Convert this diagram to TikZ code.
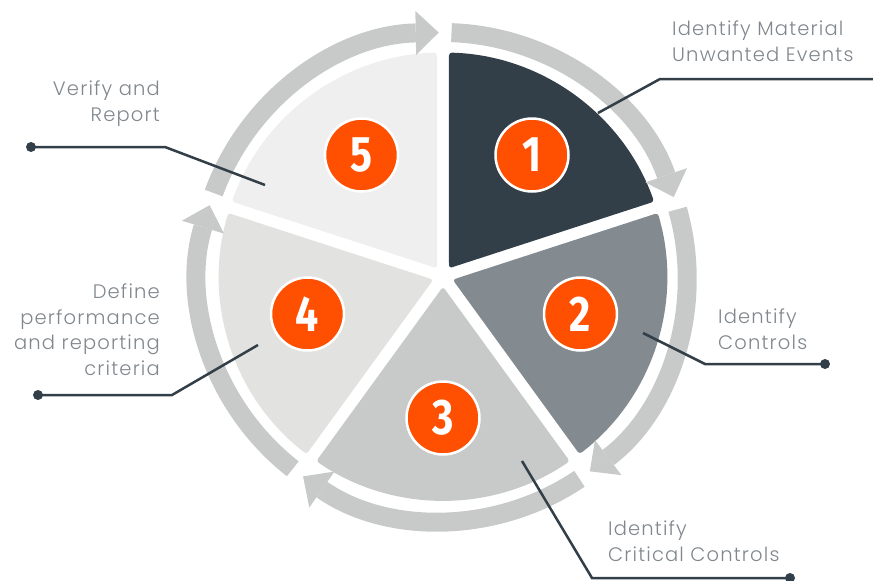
\documentclass[tikz,border=0pt]{standalone}
\usepackage{fontspec}
\setmainfont{Poppins}[UprightFont={* Light}, LetterSpace=6]
\newfontfamily\numfont{Fira Sans}[FakeStretch=0.82]
\usetikzlibrary{arrows.meta}
\definecolor{slate}{HTML}{323F48}
\definecolor{segB}{HTML}{838A90}
\definecolor{segC}{HTML}{C8CAC9}
\definecolor{segD}{HTML}{E2E3E1}
\definecolor{segE}{HTML}{EEEFEE}
\definecolor{ringgray}{HTML}{C8CAC9}
\definecolor{accent}{HTML}{FF4F00}
\definecolor{txtgray}{HTML}{80878D}
\tikzset{
    ring/.style = {draw=ringgray, line width=19pt,
                   -{Triangle[length=23pt,width=44pt,line width=0pt]}},
    num/.style = {circle, fill=accent, draw=white, line width=2.5pt,
                  minimum size=73pt, inner sep=0pt, text=white,
                  font=\numfont\bfseries\fontsize{50}{50}\selectfont},
    lbl/.style = {inner sep=0pt, text=txtgray,
                  font=\fontsize{19.5}{25.5}\selectfont},
    leader/.style = {draw=slate, line width=2.5pt},
    dot/.style = {circle, fill=slate, inner sep=0pt, minimum size=10pt}
}

\begin{document}
\begin{tikzpicture}[x=1pt, y=1pt]
  \useasboundingbox (0,0) rectangle (873,-581);

  \begin{scope}[shift={(443,-276.5)}]
    % wedges, pulled in from the boundary rays to leave white gaps
    \foreach \a/\col in {90/slate, 18/segB, -54/segC, -126/segD, -198/segE}
      \fill[\col, rounded corners=3pt] ({\a-36}:10.2) -- ({\a-1.53}:224)
        arc[start angle=\a-1.53, end angle=\a-70.47, radius=224] -- cycle;
    % arrows running round the wheel
    \foreach \a in {90, 18, -54, -126, -198}
      \draw[ring] ({\a-2}:244) arc[start angle=\a-2, end angle=\a-71, radius=244];
  \end{scope}

  % step numbers
  \node[num] (n1) at (532,-155)   {1};
  \node[num] (n2) at (580.5,-314) {2};
  \node[num] (n3) at (443,-418)   {3};
  \node[num] (n4) at (307.5,-314) {4};
  \node[num] (n5) at (361.5,-155) {5};

  % labels
  \node[lbl, anchor=north west, align=left]  (t1) at (672,-21)  {Identify Material\\Unwanted Events};
  \node[lbl, anchor=north west, align=left]  (t2) at (718,-309) {Identify\\Controls};
  \node[lbl, anchor=north west, align=left]  (t3) at (608,-521) {Identify\\Critical Controls};
  \node[lbl, anchor=north east, align=right] (t4) at (160,-284) {Define\\performance\\and reporting\\criteria};
  \node[lbl, anchor=north east, align=right] (t5) at (160,-81)  {Verify and\\Report};

  % leader lines
  \coordinate (s1) at (598,-113);
  \coordinate (k1) at (660,-79);
  \coordinate (e1) at (873,-79);
  \coordinate (s2) at (643,-333);
  \coordinate (k2) at (705,-364);
  \node[dot] (d2) at (825,-364) {};
  \coordinate (s3) at (522,-461);
  \coordinate (k3) at (592,-578);
  \node[dot] (d3) at (790,-578) {};
  \coordinate (s4) at (258,-345);
  \coordinate (k4) at (172,-395);
  \node[dot] (d4) at (38,-395) {};
  \coordinate (s5) at (265,-185);
  \coordinate (k5) at (165,-147);
  \node[dot] (d5) at (31,-147) {};

  \draw[leader] (s1) -- (k1) -- (e1);
  \draw[leader] (s2) -- (k2) -- (d2.center);
  \draw[leader] (s3) -- (k3) -- (d3.center);
  \draw[leader] (s4) -- (k4) -- (d4.center);
  \draw[leader] (s5) -- (k5) -- (d5.center);

\end{tikzpicture}
\end{document}
